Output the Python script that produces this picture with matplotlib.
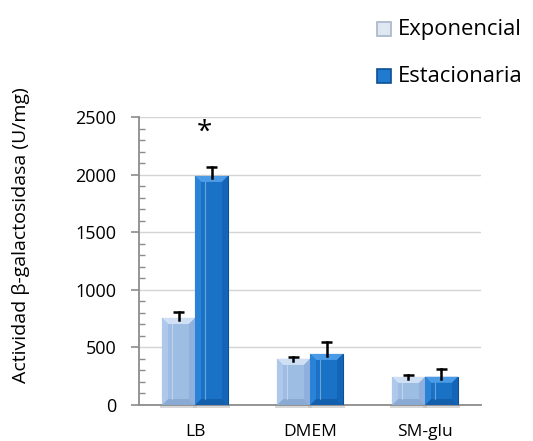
import matplotlib
matplotlib.use("Agg")
import matplotlib.pyplot as plt
from matplotlib.patches import Polygon, Rectangle
import numpy as np

plt.rcParams['font.family'] = ['Open Sans', 'DejaVu Sans']

categories = ["LB", "DMEM", "SM-glu"]
exponencial = [755, 400, 243]
estacionaria = [1988, 443, 245]
err_exp = [52, 17, 17]
err_est = [78, 104, 67]
series_names = ["Exponencial", "Estacionaria"]
yticks = [0, 500, 1000, 1500, 2000, 2500]

W, H = 533, 441
fig = plt.figure(figsize=(W / 100, H / 100), dpi=100)
ax = fig.add_axes([139 / W, 36 / H, 342 / W, 288 / H])

x = np.arange(len(categories))
bw = 0.287
col_exp = "#9ebde3"
col_est = "#1a72c6"

bars_exp = ax.bar(x - bw / 2, exponencial, bw, color=col_exp, edgecolor="#6a8fc0",
                  linewidth=0.8, zorder=3)
bars_est = ax.bar(x + bw / 2, estacionaria, bw, color=col_est, edgecolor="#104f92",
                  linewidth=0.8, zorder=3)

ax.set_xlim(-0.487, 2.487)
ax.set_ylim(0, 2500)

# soft bevel drawn with a fixed pixel depth converted to data units
px_x = (2.487 + 0.487) / 342.0
px_y = 2500 / 288.0
depth = 6


def bevel(bar, light, dark, side_l, side_r):
    x0, y0 = bar.get_x(), bar.get_y()
    w, h = bar.get_width(), bar.get_height()
    dx = depth * px_x
    dy = min(depth * px_y, h / 2)
    x1, y1 = x0 + w, y0 + h
    top = [(x0, y1), (x1, y1), (x1 - dx, y1 - dy), (x0 + dx, y1 - dy)]
    bot = [(x0, y0), (x1, y0), (x1 - dx, y0 + dy), (x0 + dx, y0 + dy)]
    left = [(x0, y0), (x0 + dx, y0 + dy), (x0 + dx, y1 - dy), (x0, y1)]
    right = [(x1, y0), (x1 - dx, y0 + dy), (x1 - dx, y1 - dy), (x1, y1)]
    for pts, c in [(top, light), (bot, dark), (left, side_l), (right, side_r)]:
        ax.add_patch(Polygon(pts, closed=True, facecolor=c, edgecolor="none",
                             zorder=3.1))
    # faint highlight line inside the bar
    ax.plot([x0 + w * 0.3] * 2, [y0 + dy, y1 - dy], color="white", alpha=0.35,
            linewidth=0.8, zorder=3.2)
    # ground shadow
    ax.add_patch(Rectangle((x0 - dx * 0.3, -25), w + dx * 0.6, 25, facecolor="#bfbfbf",
                           edgecolor="none", alpha=0.6, zorder=2.5, clip_on=False))


for b in bars_exp:
    bevel(b, "#cfe0f5", "#8aa9d3", "#adc8ea", "#8fb0dc")
for b in bars_est:
    bevel(b, "#4c9be6", "#135fae", "#2a83d6", "#1465b8")

# upper error bars (stem from bar top plus cap)
cap = 5.5 * px_x
for xs, vals, errs in [(x - bw / 2, exponencial, err_exp), (x + bw / 2, estacionaria, err_est)]:
    for xi, v, e in zip(xs, vals, errs):
        ax.plot([xi, xi], [v - 2 * px_y, v + e], color="black", linewidth=1.8, zorder=4)
        ax.plot([xi - cap, xi + cap], [v + e, v + e], color="black", linewidth=1.8,
                zorder=4, solid_capstyle="butt")

ax.set_yticks(yticks)
ax.set_yticks(np.arange(0, 2501, 100), minor=True)
ax.set_xticks(x)
ax.set_xticklabels(categories)
ax.grid(axis="y", color="#d4d4d4", linewidth=1.0, zorder=0)
for s in ["top", "right"]:
    ax.spines[s].set_visible(False)
for s in ["left", "bottom"]:
    ax.spines[s].set_color("#8c8c8c")
    ax.spines[s].set_linewidth(1.3)
ax.tick_params(axis="y", which="major", length=6, width=1.2, color="#8c8c8c",
               labelsize=13, direction="out", pad=10.5)
ax.tick_params(axis="y", which="minor", length=4, width=1.0, color="#8c8c8c",
               direction="in")
ax.tick_params(axis="x", length=0, labelsize=12.5, pad=14)

fig.text(21 / W, 1 - 235 / H, "Actividad β-galactosidasa (U/mg)", rotation=90,
         ha="center", va="center", fontsize=14)

ax.annotate("*", xy=(x[0] + bw / 2, 2361), xytext=(-5, 0), textcoords="offset points",
            ha="center", va="center", fontsize=20)

# legend
for i, (name, lc, dc, yc) in enumerate(zip(series_names, ["#dfe7f2", "#1f7ad0"],
                                            ["#a9b6c8", "#0e4f95"], [29, 76])):
    fig.patches.append(Rectangle((377 / W, 1 - (yc + 7) / H), 14 / W, 14 / H,
                                 transform=fig.transFigure, facecolor=lc,
                                 edgecolor=dc, linewidth=1.2))
    fig.text(398 / W, 1 - yc / H, name, fontsize=15.8, va="center", ha="left")

fig.savefig("out.png", dpi=100)
